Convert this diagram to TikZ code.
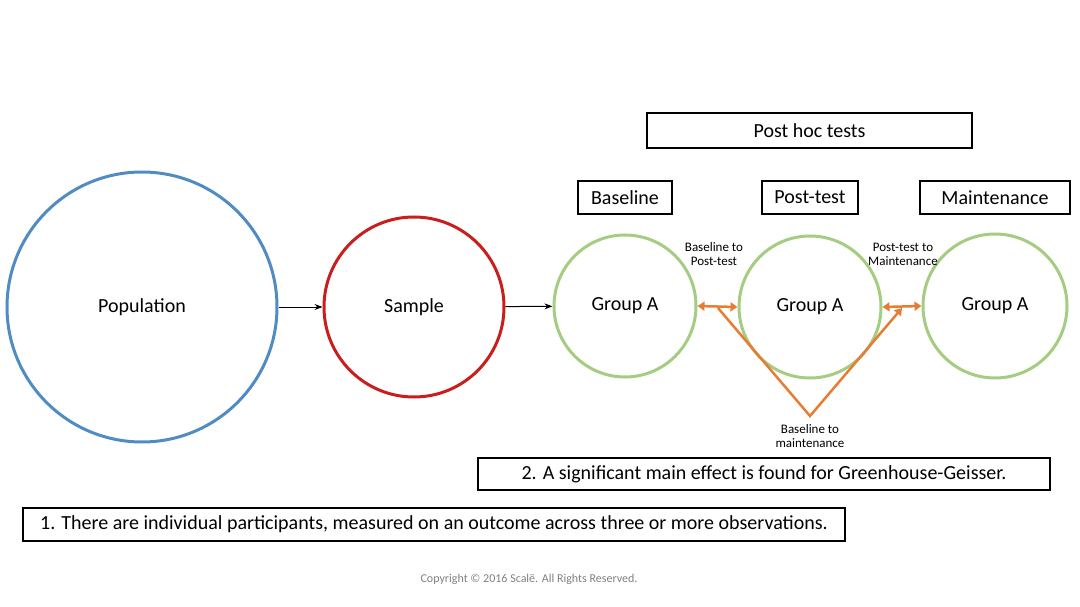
\documentclass[tikz,border=0pt]{standalone}
\usepackage{fontspec}
\setmainfont{Carlito}
\usetikzlibrary{arrows.meta}
\definecolor{popblue}{RGB}{80,140,195}
\definecolor{samred}{RGB}{200,30,30}
\definecolor{grpgreen}{RGB}{165,205,130}
\definecolor{postorange}{RGB}{230,125,50}
\tikzset{
  circ/.style={circle,line width=3pt,inner sep=0pt,font=\fontsize{20}{24}\selectfont},
  box/.style={draw,line width=1.3pt,font=\fontsize{20}{24}\selectfont,inner sep=0pt},
  lab/.style={font=\fontsize{13}{14}\selectfont,align=center},
  orr/.style={postorange,line width=2.5pt,{Triangle[length=7pt,width=9pt]}-{Triangle[length=7pt,width=9pt]}}
}
\begin{document}
\begin{tikzpicture}[x=1pt,y=-1pt]
\useasboundingbox (0,0) rectangle (1080,607);
\node[circ,draw=popblue,minimum size=270pt] (pop) at (142,307) {Population};
\node[circ,draw=samred,minimum size=180pt] (samp) at (414,307) {Sample};
\node[circ,draw=grpgreen,minimum size=142pt] (g1) at (625,306) {Group A};
\node[circ,draw=grpgreen,minimum size=142pt] (g2) at (810,307) {Group A};
\node[circ,draw=grpgreen,minimum size=144pt] (g3) at (995,306) {Group A};
\draw[-{Stealth[length=8pt]},line width=1pt] (pop) -- (samp);
\draw[-{Stealth[length=8pt]},line width=1pt] (samp) -- (g1);
% labels and boxes
\node[box,minimum width=325pt,minimum height=35pt] (posthoc) at (809.5,130.5) {Post hoc tests};
\node[box,minimum width=94pt,minimum height=33pt] (base) at (625,197.5) {Baseline};
\node[box,minimum width=96pt,minimum height=33pt] (post) at (810,197.5) {Post-test};
\node[box,minimum width=150pt,minimum height=33pt] (maint) at (995,197.5) {Maintenance};
% orange comparisons
\coordinate (v1) at (718,308);
\coordinate (v2) at (810,416);
\coordinate (v3) at (902,308);
\draw[orr] (g1.east) -- (g2.west);
\draw[orr] (g2.east) -- (g3.west);
\draw[postorange,line width=2.5pt,-{Triangle[length=7pt,width=9pt]}] (v1) -- (v2) -- (v3);
\node[lab] (l1) at (714,254) {Baseline to\\Post-test};
\node[lab] (l2) at (903,254) {Post-test to\\Maintenance};
\node[lab] (l3) at (810,436) {Baseline to\\maintenance};
\node[box,minimum width=572pt,minimum height=32pt] (note2) at (764,474) {2. A significant main effect is found for Greenhouse-Geisser.};
\node[box,minimum width=822pt,minimum height=33pt] (note1) at (434,524.5) {1. There are individual participants, measured on an outcome across three or more observations.};
\node[font=\fontsize{12}{14}\selectfont,text=gray] (copy) at (529,579) {Copyright © 2016 Scalë. All Rights Reserved.};
\end{tikzpicture}
\end{document}
